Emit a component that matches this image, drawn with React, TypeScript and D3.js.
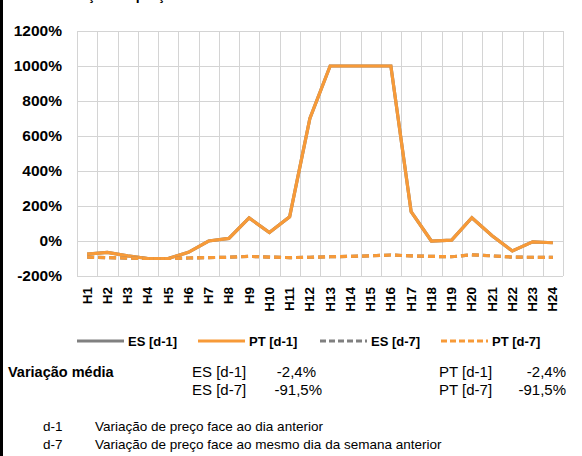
import * as d3 from "d3";
import { useRef, useEffect } from "react";

const hours = ["H1", "H2", "H3", "H4", "H5", "H6", "H7", "H8", "H9", "H10", "H11", "H12", "H13", "H14", "H15", "H16", "H17", "H18", "H19", "H20", "H21", "H22", "H23", "H24"];
const esD1 = [-75, -65, -85, -100, -100, -65, 0, 15, 132, 48, 138, 700, 1000, 1000, 1000, 1000, 167, 0, 5, 133, 30, -57, -5, -10];
const ptD1 = [-75, -65, -85, -100, -100, -65, 0, 15, 132, 48, 138, 700, 1000, 1000, 1000, 1000, 167, 0, 5, 133, 30, -57, -5, -10];
const esD7 = [-92, -95, -98, -100, -100, -97, -95, -93, -88, -92, -95, -93, -90, -88, -85, -80, -85, -88, -90, -79, -85, -92, -93, -93];
const ptD7 = [-92, -95, -98, -100, -100, -97, -95, -93, -88, -92, -95, -93, -90, -88, -85, -80, -85, -88, -90, -79, -85, -92, -93, -93];
const yTicks = [-200, 0, 200, 400, 600, 800, 1000, 1200];

const legendItems = [
  { label: "ES [d-1]", color: "#808080", dash: null, x: 77 },
  { label: "PT [d-1]", color: "#F79A38", dash: null, x: 198 },
  { label: "ES [d-7]", color: "#808080", dash: "6,3", x: 320 },
  { label: "PT [d-7]", color: "#F79A38", dash: "6,3", x: 441 },
];

const App = () => {
  const gRef = useRef(null);

  useEffect(() => {
    const svg = d3.select(gRef.current);
    svg.selectAll("*").remove();
    const font = "Liberation Sans, Arial, sans-serif";

    const left = 77, right = 563, top = 31, bottom = 276;

    const x = d3.scaleBand().domain(hours).range([left, right]);
    const y = d3.scaleLinear().domain([-200, 1200]).range([bottom, top]);

    // title (cut off at the top)
    svg.append("text").attr("x", 54).attr("y", 0)
      .attr("font-family", font).attr("font-size", 14).attr("font-weight", "bold")
      .text("Variação de preço");

    // grid
    const grid = svg.append("g").attr("stroke", "#d4d4d4").attr("stroke-width", 1);
    yTicks.forEach(t => {
      grid.append("line").attr("x1", left).attr("x2", right)
        .attr("y1", Math.round(y(t)) + 0.5).attr("y2", Math.round(y(t)) + 0.5);
    });
    hours.forEach(h => {
      const xx = Math.round(x(h)) + 0.5;
      grid.append("line").attr("x1", xx).attr("x2", xx).attr("y1", top).attr("y2", bottom);
    });
    grid.append("line").attr("x1", right + 0.5).attr("x2", right + 0.5).attr("y1", top).attr("y2", bottom);

    // y labels
    svg.append("g").selectAll("text").data(yTicks).join("text")
      .attr("x", 62).attr("y", d => y(d) + 5)
      .attr("text-anchor", "end")
      .attr("font-family", font).attr("font-size", 15.5).attr("font-weight", "bold")
      .text(d => d + "%");

    // x labels
    svg.append("g").selectAll("text").data(hours).join("text")
      .attr("transform", d => `translate(${x(d) + x.bandwidth() / 2 + 4.5},${287}) rotate(-90)`)
      .attr("text-anchor", "end")
      .attr("font-family", font).attr("font-size", 13.5).attr("font-weight", "bold")
      .text(d => d);

    const line = d3.line<number>()
      .x((d, i) => x(hours[i]) + x.bandwidth() / 2)
      .y(d => y(d));

    const series = [
      { data: esD1, color: "#808080", dash: null },
      { data: ptD1, color: "#F79A38", dash: null },
      { data: esD7, color: "#808080", dash: "7,4" },
      { data: ptD7, color: "#F79A38", dash: "7,4" },
    ];
    series.forEach(s => {
      svg.append("path").datum(s.data)
        .attr("fill", "none").attr("stroke", s.color).attr("stroke-width", 3.2)
        .attr("stroke-dasharray", s.dash)
        .attr("d", line);
    });

    // legend
    const lg = svg.append("g");
    legendItems.forEach(it => {
      lg.append("line").attr("x1", it.x).attr("x2", it.x + 47).attr("y1", 341).attr("y2", 341)
        .attr("stroke", it.color).attr("stroke-width", 3).attr("stroke-dasharray", it.dash);
      lg.append("text").attr("x", it.x + 51).attr("y", 345.5)
        .attr("font-family", font).attr("font-size", 13).attr("font-weight", "bold")
        .text(it.label);
    });

    // stats
    const st = svg.append("g").attr("font-family", font).attr("font-size", 15);
    st.append("text").attr("x", 8).attr("y", 377).attr("font-weight", "bold").attr("font-size", 14.5).text("Variação média");
    st.append("text").attr("x", 192).attr("y", 377).text("ES [d-1]");
    st.append("text").attr("x", 316).attr("y", 377).attr("text-anchor", "end").text("-2,4%");
    st.append("text").attr("x", 439).attr("y", 377).text("PT [d-1]");
    st.append("text").attr("x", 566).attr("y", 377).attr("text-anchor", "end").text("-2,4%");
    st.append("text").attr("x", 192).attr("y", 395).text("ES [d-7]");
    st.append("text").attr("x", 322).attr("y", 395).attr("text-anchor", "end").text("-91,5%");
    st.append("text").attr("x", 439).attr("y", 395).text("PT [d-7]");
    st.append("text").attr("x", 566).attr("y", 395).attr("text-anchor", "end").text("-91,5%");

    // notes
    const nt = svg.append("g").attr("font-family", font).attr("font-size", 13.5);
    nt.append("text").attr("x", 43).attr("y", 431).text("d-1");
    nt.append("text").attr("x", 95).attr("y", 431).text("Variação de preço face ao dia anterior");
    nt.append("text").attr("x", 43).attr("y", 449).text("d-7");
    nt.append("text").attr("x", 95).attr("y", 449).text("Variação de preço face ao mesmo dia da semana anterior");
  }, []);

  return (
    <div style={{ position: "fixed", left: 0, top: 0, width: 582, height: 456, background: "#fff" }}>
      <svg width={582} height={456} style={{ display: "block" }}>
        <rect x={0} y={0} width={3} height={456} fill="black" />
        <g ref={gRef} />
      </svg>
    </div>
  );
};

export default App;
